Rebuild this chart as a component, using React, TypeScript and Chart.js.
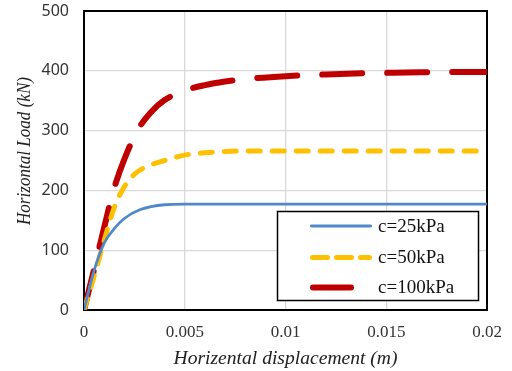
import { useEffect, useRef } from "react";
import { Chart, registerables } from "chart.js";

Chart.register(...registerables);

// Load–displacement curves for three cohesion values
const disp25 = [0, 0.0005, 0.001, 0.0015, 0.002, 0.0028, 0.004, 0.005, 0.007, 0.01, 0.015, 0.02];
const load25 = [0, 66, 112, 136, 153, 168, 176, 177, 177, 177, 177, 177];

const disp50 = [0, 0.0005, 0.001, 0.0015, 0.002, 0.0025, 0.003, 0.004, 0.005, 0.006, 0.007, 0.008, 0.01, 0.015, 0.02];
const load50 = [0, 56, 116, 171, 206, 227, 238, 250, 259, 263, 265, 266, 266, 266, 266];

const disp100 = [0, 0.0005, 0.001, 0.0015, 0.002, 0.0027, 0.0033, 0.004, 0.005, 0.006, 0.007, 0.008, 0.01, 0.012, 0.014, 0.016, 0.018, 0.02];
const load100 = [0, 68, 138, 204, 252, 303, 330, 351, 367, 376, 382, 386, 391, 394, 396, 397, 398, 398];

const seriesLabels = ["c=25kPa", "c=50kPa", "c=100kPa"];
const seriesColors = ["#5089CB", "#FFC000", "#C00000"];
const seriesWidths = [2.8, 5, 6];
const seriesDashes: number[][] = [[], [12, 12], [40, 25]];

const xTitle = "Horizental displacement (m)";
const yTitle = "Horizontal Load (kN)";

const toPoints = (xs: number[], ys: number[]) => xs.map((x, i) => ({ x, y: ys[i] }));

// draws text centred at (0,0), squeezed along its run to a given length
function fitText(ctx: CanvasRenderingContext2D, text: string, length: number) {
  const w = ctx.measureText(text).width;
  ctx.save();
  ctx.scale(length / w, 1);
  ctx.fillText(text, 0, 0);
  ctx.restore();
}

const overlay = {
  id: "overlay",
  beforeDatasetsDraw(chart: any) {
    const { ctx, chartArea: a } = chart;
    ctx.save();
    ctx.strokeStyle = "#000";
    ctx.lineWidth = 2;
    ctx.strokeRect(a.left, a.top, a.right - a.left, a.bottom - a.top);
    ctx.restore();
  },
  afterDatasetsDraw(chart: any) {
    const { ctx, chartArea: a } = chart;
    ctx.save();

    // legend box
    const bx = 277.5, by = 211.5, bw = 201, bh = 89;
    ctx.fillStyle = "#fff";
    ctx.fillRect(bx, by, bw, bh);
    ctx.strokeStyle = "#000";
    ctx.lineWidth = 1.5;
    ctx.strokeRect(bx, by, bw, bh);

    const rowY = [226, 257.5, 287.5];
    const sampleLens = [62, 62, 44];
    ctx.font = "19px 'Liberation Serif'";
    ctx.textBaseline = "middle";
    ctx.textAlign = "left";
    seriesLabels.forEach((label, i) => {
      ctx.beginPath();
      ctx.strokeStyle = seriesColors[i];
      ctx.lineWidth = seriesWidths[i];
      ctx.lineCap = "round";
      ctx.setLineDash(i === 1 ? [15, 9] : []);
      const x0 = 310 + seriesWidths[i] / 2;
      ctx.moveTo(x0, rowY[i]);
      ctx.lineTo(x0 + sampleLens[i] - seriesWidths[i], rowY[i]);
      ctx.stroke();
      ctx.setLineDash([]);
      ctx.fillStyle = "#111";
      ctx.fillText(label, 378, rowY[i] + 1);
    });

    // axis titles
    ctx.fillStyle = "#222";
    ctx.font = "italic 19.5px 'Liberation Serif'";
    ctx.textAlign = "center";
    ctx.textBaseline = "middle";
    ctx.save();
    ctx.translate((a.left + a.right) / 2, 359);
    fitText(ctx, xTitle, 224);
    ctx.restore();
    ctx.translate(25, 151);
    ctx.rotate(-Math.PI / 2);
    fitText(ctx, yTitle, 148);
    ctx.restore();
  },
};

export default function App() {
  const ref = useRef<HTMLCanvasElement>(null);

  useEffect(() => {
    if (!ref.current) return;
    const chart = new Chart(ref.current, {
      type: "line",
      data: {
        datasets: [
          { data: toPoints(disp25, load25) },
          { data: toPoints(disp50, load50) },
          { data: toPoints(disp100, load100) },
        ].map((d, i) => ({
          ...d,
          label: seriesLabels[i],
          borderColor: seriesColors[i],
          backgroundColor: seriesColors[i],
          borderWidth: seriesWidths[i],
          borderDash: seriesDashes[i],
          borderCapStyle: i === 0 ? "butt" : "round",
          borderJoinStyle: "round",
          cubicInterpolationMode: "monotone",
          pointRadius: 0,
          fill: false,
        })) as any,
      },
      options: {
        animation: false,
        responsive: false,
        devicePixelRatio: 1,
        layout: { padding: { top: 11, right: 25, left: 0, bottom: 0 } },
        plugins: { legend: { display: false }, tooltip: { enabled: false } },
        scales: {
          x: {
            type: "linear",
            min: 0,
            max: 0.02,
            afterFit: (s: any) => {
              s.height = 61;
              s.paddingLeft = 0;
              s.paddingRight = 0;
            },
            border: { display: false },
            grid: { color: "#D9D9D9", lineWidth: 1.3, drawTicks: false },
            ticks: {
              stepSize: 0.005,
              padding: 12,
              color: "#333",
              font: { family: "'Liberation Serif'", size: 17 },
              callback: (v: any) => String(Number(Number(v).toFixed(4))),
            },
          },
          y: {
            min: 0,
            max: 500,
            afterFit: (s: any) => {
              s.width = 84;
              s.paddingTop = 0;
              s.paddingBottom = 0;
            },
            border: { display: false },
            grid: { color: "#D9D9D9", lineWidth: 1.3, drawTicks: false },
            ticks: {
              stepSize: 100,
              padding: 15,
              color: "#333",
              font: { family: "'Noto Sans'", size: 16 },
            },
          },
        },
      },
      plugins: [overlay],
    });
    return () => chart.destroy();
  }, []);

  return (
    <div style={{ position: "absolute", left: 0, top: 0, width: 512, height: 371, background: "#fff" }}>
      <canvas ref={ref} width={512} height={371} />
    </div>
  );
}
